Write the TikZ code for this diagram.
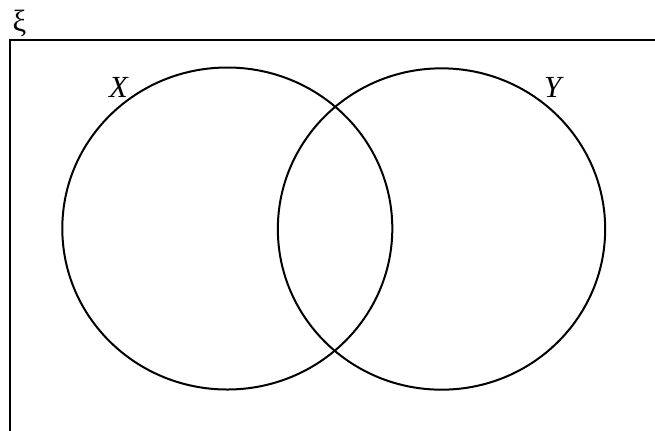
\documentclass[tikz,border=0pt]{standalone}
\usepackage{fontspec}
\setmainfont{Liberation Serif}
\usetikzlibrary{shapes.geometric}

\begin{document}
\begin{tikzpicture}[
    x=0.75pt, y=-0.75pt,
    every node/.style={font=\fontsize{23}{26}\selectfont},
    setshape/.style={ellipse, draw, line width=1.5pt, inner sep=0pt},
    setlabel/.style={inner sep=0pt},
]
% --- page frame (pixel grid of the reference) ------------------------
\useasboundingbox (0,0) rectangle (655,430);
\clip (0,0) rectangle (655,430);

% --- universal set ---------------------------------------------------
\coordinate (uni_nw) at (9.5,40);
\coordinate (uni_se) at (700,480);
\draw[line width=1.5pt] (uni_nw) rectangle (uni_se);
\node[setlabel] (xi) at (19.5,23) {ξ};

% --- the two sets ----------------------------------------------------
\node[setshape, minimum width=247.5pt, minimum height=241.5pt] (setX) at (227.3,228.5) {};
\node[setshape, minimum width=245.5pt, minimum height=241pt]   (setY) at (441.5,229) {};

% --- set names -------------------------------------------------------
\node[setlabel] (labX) at (119,87) {\textit{X}};
\node[setlabel] (labY) at (554,87) {\textit{Y}};
\end{tikzpicture}
\end{document}
